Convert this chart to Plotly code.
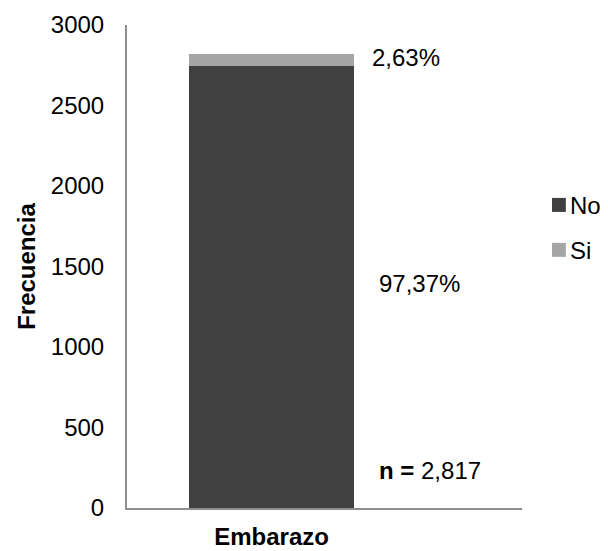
import plotly.graph_objects as go

categories = ["Embarazo"]
series_names = ["No", "Si"]
values_no = [2743]
values_si = [74]
total_n = 2817
colors = ["#404040", "#A6A6A6"]
y_ticks = [0, 500, 1000, 1500, 2000, 2500, 3000]

FONT = "Liberation Sans, Arial, sans-serif"
FS = 24

fig = go.Figure()
for name, vals, col in zip(series_names, [values_no, values_si], colors):
    fig.add_trace(go.Bar(
        x=categories, y=vals, name=name, showlegend=False,
        marker=dict(color=col, line=dict(width=0)),
        width=0.418,
    ))

pct_no = values_no[0] / total_n * 100
pct_si = values_si[0] / total_n * 100
fmt = lambda p: f"{p:.2f}".replace(".", ",") + "%"

ann_font = dict(family=FONT, size=FS, color="#000000")
fig.add_annotation(x=0.25, y=2800, xref="x", yref="y", text=fmt(pct_si),
                   showarrow=False, xanchor="left", yanchor="middle", font=ann_font)
fig.add_annotation(x=0.267, y=1395, xref="x", yref="y", text=fmt(pct_no),
                   showarrow=False, xanchor="left", yanchor="middle", font=ann_font)
fig.add_annotation(x=0.267, y=236, xref="x", yref="y",
                   text="<b>n =</b> " + f"{total_n:,}",
                   showarrow=False, xanchor="left", yanchor="middle", font=ann_font)

# legend drawn as marker squares + text labels (paper coordinates)
legend_rows = [(0.642, 0.613, 0.627), (0.549, 0.520, 0.534)]
for (y1, y0, yt), name, col in zip(legend_rows, series_names, colors):
    fig.add_shape(type="rect", xref="paper", yref="paper",
                  x0=1.076, x1=1.111, y0=y0, y1=y1,
                  fillcolor=col, line=dict(width=0))
    fig.add_annotation(x=1.117, y=yt, xref="paper", yref="paper", text=name,
                       showarrow=False, xanchor="left", yanchor="middle",
                       font=ann_font)

# page body has an 8px margin: size the figure so it ends at the window edge
fig.update_layout(
    width=600, height=543,
    barmode="stack",
    paper_bgcolor="white", plot_bgcolor="white",
    margin=dict(l=119, r=86, t=17, b=43),
    font=dict(family=FONT, size=FS, color="#000000"),
    showlegend=False,
    xaxis=dict(range=[-0.366, 0.634], showline=True, linecolor="#8E8E8E", linewidth=2,
               showgrid=False, zeroline=False, ticks="", automargin=False,
               tickfont=dict(family=FONT, size=FS, color="#000000", weight="bold"),
               ticklabelstandoff=6),
    yaxis=dict(range=[0, 3000], tickvals=y_ticks, showline=True, linecolor="#8E8E8E",
               linewidth=2, showgrid=False, zeroline=False, ticks="", automargin=False,
               ticklabelstandoff=16,
               title=dict(text="<b>Frecuencia</b>", standoff=8,
                          font=dict(family=FONT, size=FS, color="#000000"))),
)

fig.write_html("out.html")
